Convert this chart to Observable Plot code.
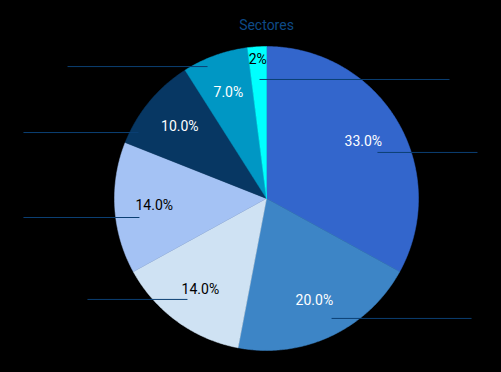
<!DOCTYPE html>
<html><head><meta charset="utf-8">
<script src="https://cdn.jsdelivr.net/npm/d3@7"></script>
<script src="https://cdn.jsdelivr.net/npm/@observablehq/plot@0.6"></script>
<style>html,body{margin:0;padding:0;background:#000;overflow:hidden}</style>
</head><body><div id="chart"></div>
<script>
const title = "Sectores";
const values = [33, 20, 14, 14, 10, 7, 2];
const valueLabels = ["33.0%", "20.0%", "14.0%", "14.0%", "10.0%", "7.0%", "2%"];
const colors = ["#3366cc", "#3d85c6", "#cfe2f3", "#a4c2f4", "#073763", "#0097c4", "#00ffff"];
// leader lines, in pie-radius units (y grows downward from the centre)
const leaderY  = [-0.303, 0.789, 0.664, 0.125, -0.434, -0.868, -0.783];
const leaderX1 = [0.730, 0.428, -1.178, -1.599, -1.599, -1.309, -0.046];
const leaderX2 = [1.388, 1.349, -0.520, -0.836, -0.842, -0.388, 1.204];

const W = 501, H = 372, cx = 266, cy = 198, r = 152;

const total = d3.sum(values);
let acc = 0;
const slices = values.map((v, i) => {
  const a0 = acc / total * 2 * Math.PI; acc += v;
  const a1 = acc / total * 2 * Math.PI;
  const mid = (a0 + a1) / 2;
  const f = v / total < 0.05 ? 0.915 : 0.74;
  const lum = d3.lab(colors[i]).l;
  return {i, v, a0, a1, color: colors[i], label: valueLabels[i],
    lx: f * Math.sin(mid), ly: -f * Math.cos(mid), tc: lum > 70 ? "#000" : "#fff"};
});
const pts = slices.flatMap(s => {
  const n = Math.max(2, Math.ceil((s.a1 - s.a0) / (Math.PI / 360)));
  const arr = [{i: s.i, x: 0, y: 0, color: s.color}];
  for (let k = 0; k <= n; k++) {
    const a = s.a0 + (s.a1 - s.a0) * k / n;
    arr.push({i: s.i, x: Math.sin(a), y: -Math.cos(a), color: s.color});
  }
  arr.push({i: s.i, x: 0, y: 0, color: s.color});
  return arr;
});
const leaders = values.map((v, i) => ({x1: leaderX1[i], x2: leaderX2[i], y: leaderY[i]}));

const chart = Plot.plot({
  width: W, height: H, margin: 0,
  style: {background: "#000", fontFamily: "Roboto, sans-serif"},
  x: {domain: [-cx / r, (W - cx) / r], range: [0, W], axis: null},
  y: {domain: [-cy / r, (H - cy) / r], range: [0, H], axis: null},
  color: {type: "identity"},
  marks: [
    Plot.line(pts, {x: "x", y: "y", z: "i", fill: "color", stroke: "color", strokeWidth: 0.5}),
    Plot.link(leaders, {x1: "x1", x2: "x2", y1: "y", y2: "y", stroke: "#0b3f73", strokeWidth: 1}),
    Plot.text(slices, {x: "lx", y: "ly", text: "label", fill: "tc", fontSize: 14}),
    Plot.text([title], {x: [0], frameAnchor: "top", lineAnchor: "middle", dy: 25, text: d => d, fill: "#0e4a86", fontSize: 14})
  ]
});
document.getElementById("chart").appendChild(chart);
</script>
</body></html>
